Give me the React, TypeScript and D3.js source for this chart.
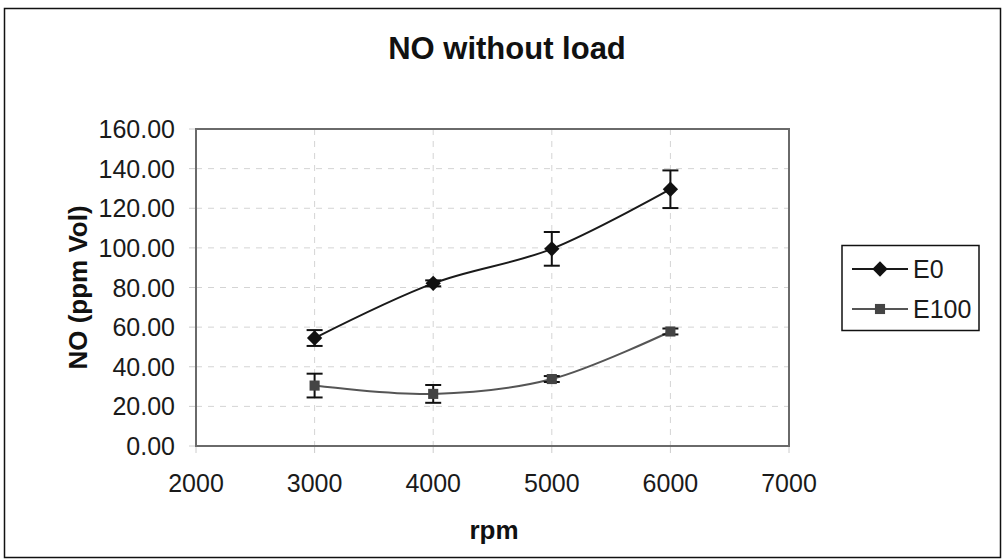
import React, { useEffect, useRef } from 'react';
import * as d3 from 'd3';

// data
const rpm = [3000, 4000, 5000, 6000];
const e0 = [54.5, 82.1, 99.5, 129.6];
const e0Err = [4, 1.5, 8.5, 9.5];
const e100 = [30.5, 26.3, 33.8, 57.8];
const e100Err = [6, 4.5, 1.5, 1.5];
const xTicks = [2000, 3000, 4000, 5000, 6000, 7000];
const yTicks = [0, 20, 40, 60, 80, 100, 120, 140, 160];

const App = () => {
  const svgRef = useRef<SVGSVGElement>(null);

  useEffect(() => {
    const W = 1003;
    const H = 560;
    const svg = d3.select(svgRef.current).attr('width', W).attr('height', H);
    svg.selectAll('*').remove();

    const font = 'Liberation Sans, Arial, sans-serif';

    // outer frame
    svg
      .append('rect')
      .attr('x', 4.5)
      .attr('y', 8.5)
      .attr('width', 996)
      .attr('height', 549)
      .attr('fill', 'white')
      .attr('stroke', '#111')
      .attr('stroke-width', 1.5);

    const plot = { left: 196, top: 129, right: 789, bottom: 446 };

    const x = d3.scaleLinear().domain([2000, 7000]).range([plot.left, plot.right]);
    const y = d3.scaleLinear().domain([0, 160]).range([plot.bottom, plot.top]);

    // gridlines
    const grid = svg.append('g');
    grid
      .selectAll('.hg')
      .data(yTicks.slice(1, -1))
      .enter()
      .append('line')
      .attr('x1', plot.left)
      .attr('x2', plot.right)
      .attr('y1', d => y(d))
      .attr('y2', d => y(d))
      .attr('stroke', '#d4d4d4')
      .attr('stroke-width', 1)
      .attr('stroke-dasharray', '6,6');
    grid
      .selectAll('.vg')
      .data(xTicks.slice(1, -1))
      .enter()
      .append('line')
      .attr('x1', d => x(d))
      .attr('x2', d => x(d))
      .attr('y1', plot.top)
      .attr('y2', plot.bottom)
      .attr('stroke', '#d4d4d4')
      .attr('stroke-width', 1)
      .attr('stroke-dasharray', '6,6');

    // tick marks
    grid
      .selectAll('.yt')
      .data(yTicks)
      .enter()
      .append('line')
      .attr('x1', plot.left - 7)
      .attr('x2', plot.left)
      .attr('y1', d => y(d))
      .attr('y2', d => y(d))
      .attr('stroke', '#ccc');
    grid
      .selectAll('.xt')
      .data(xTicks)
      .enter()
      .append('line')
      .attr('x1', d => x(d))
      .attr('x2', d => x(d))
      .attr('y1', plot.bottom)
      .attr('y2', plot.bottom + 7)
      .attr('stroke', '#ccc');

    // plot border
    svg
      .append('rect')
      .attr('x', plot.left)
      .attr('y', plot.top)
      .attr('width', plot.right - plot.left)
      .attr('height', plot.bottom - plot.top)
      .attr('fill', 'none')
      .attr('stroke', '#6a6a6a')
      .attr('stroke-width', 2);

    // tick labels
    svg
      .append('g')
      .selectAll('text')
      .data(yTicks)
      .enter()
      .append('text')
      .attr('x', 175)
      .attr('y', d => y(d))
      .attr('dy', '0.36em')
      .attr('text-anchor', 'end')
      .style('font-family', font)
      .style('font-size', '25px')
      .attr('fill', '#1a1a1a')
      .text(d => d.toFixed(2));
    svg
      .append('g')
      .selectAll('text')
      .data(xTicks)
      .enter()
      .append('text')
      .attr('x', d => x(d))
      .attr('y', 492)
      .attr('text-anchor', 'middle')
      .style('font-family', font)
      .style('font-size', '25px')
      .attr('fill', '#1a1a1a')
      .text(d => d);

    // titles
    svg
      .append('text')
      .attr('x', 507)
      .attr('y', 59)
      .attr('text-anchor', 'middle')
      .style('font-family', font)
      .style('font-size', '31px')
      .style('font-weight', 'bold')
      .attr('fill', '#111')
      .text('NO without load');
    svg
      .append('text')
      .attr('x', 494)
      .attr('y', 539)
      .attr('text-anchor', 'middle')
      .style('font-family', font)
      .style('font-size', '26px')
      .style('font-weight', 'bold')
      .attr('fill', '#111')
      .text('rpm');
    svg
      .append('text')
      .attr('transform', `translate(87, ${(plot.top + plot.bottom) / 2}) rotate(-90)`)
      .attr('text-anchor', 'middle')
      .style('font-family', font)
      .style('font-size', '26px')
      .style('font-weight', 'bold')
      .attr('fill', '#111')
      .text('NO (ppm Vol)');

    const line = d3
      .line<[number, number]>()
      .x(d => x(d[0]))
      .y(d => y(d[1]))
      .curve(d3.curveCardinal.tension(0));

    const series = [
      { name: 'E0', vals: e0, err: e0Err, line: '#1a1a1a', mark: '#111', shape: d3.symbolDiamond2, size: 150 },
      { name: 'E100', vals: e100, err: e100Err, line: '#555', mark: '#444', shape: d3.symbolSquare2, size: 130 },
    ];

    series.forEach(s => {
      const pts = rpm.map((r, i) => [r, s.vals[i]] as [number, number]);
      const g = svg.append('g');
      g.append('path')
        .attr('d', line(pts))
        .attr('fill', 'none')
        .attr('stroke', s.line)
        .attr('stroke-width', 2);

      // error bars
      const eb = g
        .selectAll('.eb')
        .data(pts.map((p, i) => ({ x: p[0], v: p[1], e: s.err[i] })))
        .enter()
        .append('g');
      eb.append('line')
        .attr('x1', d => x(d.x))
        .attr('x2', d => x(d.x))
        .attr('y1', d => y(d.v + d.e))
        .attr('y2', d => y(d.v - d.e))
        .attr('stroke', '#111')
        .attr('stroke-width', 2);
      [1, -1].forEach(sign => {
        eb.append('line')
          .attr('x1', d => x(d.x) - 8)
          .attr('x2', d => x(d.x) + 8)
          .attr('y1', d => y(d.v + sign * d.e))
          .attr('y2', d => y(d.v + sign * d.e))
          .attr('stroke', '#111')
          .attr('stroke-width', 2);
      });

      g.selectAll('.m')
        .data(pts)
        .enter()
        .append('path')
        .attr('d', d3.symbol().type(s.shape).size(s.size)())
        .attr('transform', d => `translate(${x(d[0])},${y(d[1])})`)
        .attr('fill', s.mark);
    });

    // legend
    const lg = svg.append('g');
    lg.append('rect')
      .attr('x', 842)
      .attr('y', 245.5)
      .attr('width', 137)
      .attr('height', 85)
      .attr('fill', 'white')
      .attr('stroke', '#111')
      .attr('stroke-width', 1.5);
    series.forEach((s, i) => {
      const ly = 269 + i * 40;
      lg.append('line')
        .attr('x1', 852)
        .attr('x2', 908)
        .attr('y1', ly)
        .attr('y2', ly)
        .attr('stroke', s.line)
        .attr('stroke-width', 2);
      lg.append('path')
        .attr('d', d3.symbol().type(s.shape).size(s.size)())
        .attr('transform', `translate(880,${ly})`)
        .attr('fill', s.mark);
      lg.append('text')
        .attr('x', 913)
        .attr('y', ly)
        .attr('dy', '0.36em')
        .style('font-family', font)
        .style('font-size', '25px')
        .attr('fill', '#1a1a1a')
        .text(s.name);
    });
  }, []);

  return <svg ref={svgRef} style={{ position: 'absolute', left: 0, top: 0, display: 'block' }}></svg>;
};

export default App;
